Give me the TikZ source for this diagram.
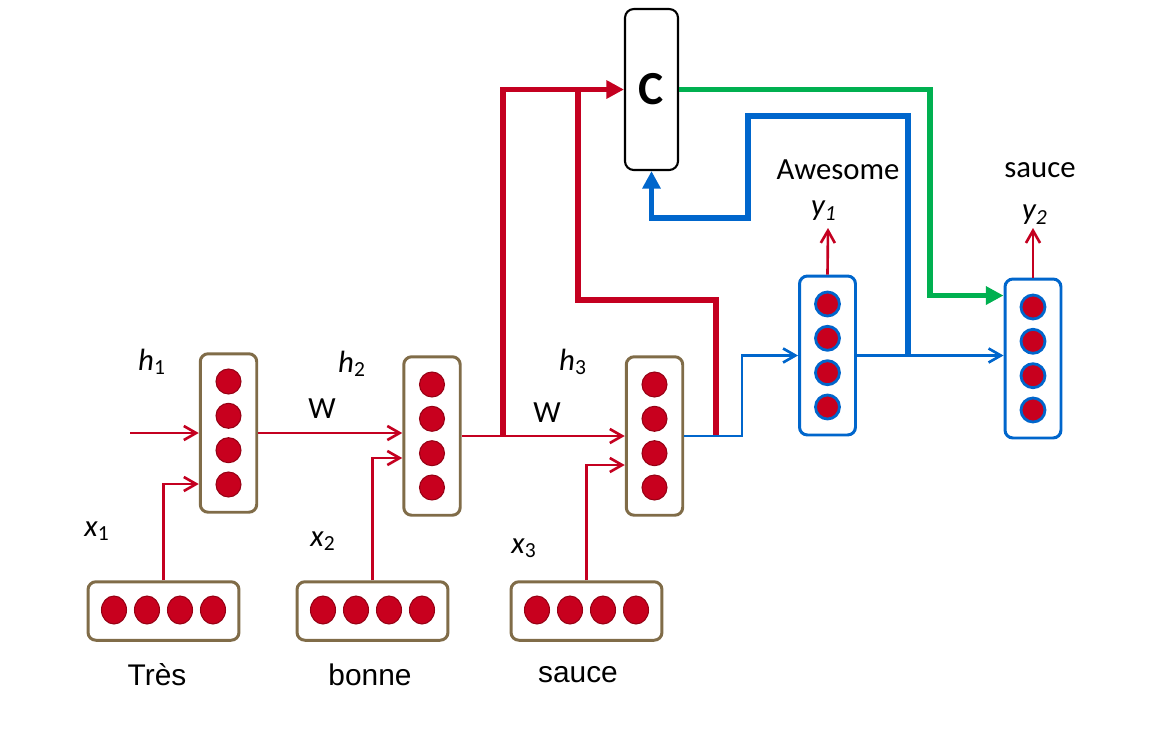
\documentclass[tikz,border=0pt]{standalone}
\usepackage{fontspec}
\setmainfont{Liberation Sans}
\newfontfamily\calib{Carlito}
\usetikzlibrary{arrows.meta,calc,shapes.geometric}

\definecolor{encred}{RGB}{196,0,32}
\definecolor{dotred}{RGB}{200,0,30}
\definecolor{dotedge}{RGB}{150,0,20}
\definecolor{tan}{RGB}{128,108,72}
\definecolor{decblue}{RGB}{0,102,204}
\definecolor{ctxgreen}{RGB}{0,176,80}

\begin{document}
\begin{tikzpicture}[x=0.02cm,y=-0.02cm,
  encbox/.style={draw=tan,line width=1.7pt,rounded corners=4.5pt,fill=white,
    minimum width=1.13cm,minimum height=3.17cm,inner sep=0pt},
  inbox/.style={draw=tan,line width=1.7pt,rounded corners=4.5pt,fill=white,
    minimum width=3.02cm,minimum height=1.17cm,inner sep=0pt},
  decbox/.style={draw=decblue,line width=1.7pt,rounded corners=4.5pt,fill=white,
    minimum width=1.12cm,minimum height=3.18cm,inner sep=0pt},
  ctxbox/.style={draw=black,line width=1.2pt,rounded corners=5pt,fill=white,
    minimum width=1.06cm,minimum height=3.22cm,inner sep=0pt},
  dot/.style={circle,fill=dotred,draw=dotedge,line width=0.6pt,
    minimum size=0.5cm,inner sep=0pt},
  hdot/.style={ellipse,fill=dotred,draw=dotedge,line width=0.6pt,
    minimum width=0.5cm,minimum height=0.56cm,inner sep=0pt},
  bdot/.style={circle,fill=dotred,draw=decblue,line width=1.6pt,
    minimum size=0.48cm,inner sep=0pt},
  redthin/.style={draw=encred,line width=1.5pt,
    -{Straight Barb[length=7pt,width=8pt]}},
  redline/.style={draw=encred,line width=1.5pt},
  bluethin/.style={draw=decblue,line width=1.5pt,
    -{Straight Barb[length=7pt,width=8pt]}},
  redthick/.style={draw=encred,line width=3pt},
  bluethick/.style={draw=decblue,line width=3pt},
  greenthick/.style={draw=ctxgreen,line width=3pt},
  fat/.style={-{Triangle[length=10pt,width=10pt]}},
  word/.style={font=\fontsize{17}{20}\selectfont,inner sep=0pt},
  cword/.style={font=\calib\fontsize{17.5}{20}\selectfont,inner sep=0pt},
  sym/.style={font=\calib\itshape\fontsize{17.5}{20}\selectfont,inner sep=0pt}
]
\useasboundingbox (0,0) rectangle (1150,728);

% ---- context vector ----
\node[ctxbox] (c) at (651.5,89.5) {\calib\bfseries\fontsize{27}{30}\selectfont C};

% ---- encoder hidden states ----
\node[encbox] (hA) at (228.5,433) {};
\node[encbox] (hB) at (432,436) {};
\node[encbox] (hC) at (654.5,436) {};
\foreach \b in {hA,hB,hC}
  \foreach \d [count=\i] in {-51.5,-17.2,17.2,51.5}
    \node[dot] (\b-\i) at ($(\b)+(0,\d)$) {};

% ---- input embeddings ----
\node[inbox] (xA) at (163.5,611) {};
\node[inbox] (xB) at (372.5,611) {};
\node[inbox] (xC) at (586.5,611) {};
\foreach \b in {xA,xB,xC}
  \foreach \d [count=\i] in {-49.5,-16.5,16.5,49.5}
    \node[hdot] (\b-\i) at ($(\b)+(\d,-1)$) {};

% ---- decoder states ----
\node[decbox] (dA) at (827.5,355.5) {};
\node[decbox] (dB) at (1033,358.5) {};
\foreach \b in {dA,dB}
  \foreach \d [count=\i] in {-51.5,-17.2,17.2,51.5}
    \node[bdot] (\b-\i) at ($(\b)+(0,\d)$) {};

% ---- labels ----
\node[sym] (lh1) at (152,362) {h\textsubscript{\upshape 1}};
\node[sym] (lh2) at (352,364) {h\textsubscript{\upshape 2}};
\node[sym] (lh3) at (573,362) {h\textsubscript{\upshape 3}};
\node[sym] (lx1) at (97,531) {x\textsubscript{\upshape 1}};
\node[sym] (lx2) at (323,541) {x\textsubscript{\upshape 2}};
\node[sym] (lx3) at (524,548) {x\textsubscript{\upshape 3}};
\node[cword] (lw1) at (322,409) {W};
\node[cword] (lw2) at (547,413) {W};
\node[word] (wa) at (157,675) {Très};
\node[word] (wb) at (370,675) {bonne};
\node[word] (wc) at (578,675) {sauce};
\node[cword] (oa) at (838,170) {Awesome};
\node[cword] (ob) at (1040,170) {sauce};
\node[sym] (ly1) at (824,211) {y\textsubscript{1}};
\node[sym] (ly2) at (1035,215) {y\textsubscript{2}};

% ---- junction points ----
\coordinate (h0) at (130,433);
\coordinate (j1) at (503,436);
\coordinate (j2) at (578,89.5);
\coordinate (j3) at (716,436);
\coordinate (j4) at (908,355.5);
\coordinate (t1) at (828,228);
\coordinate (t2) at (1033,228);

% ---- thick feeds into and out of C ----
\draw[redthick,fat] (j1) |- (c.west);
\draw[redthick] (j2) -- (578,300) -| (j3);
\draw[bluethick,fat] (j4) -- (908,116) -- (748,116) -- (748,218) -| (c.south);
\draw[greenthick,fat] (c.east) -- (930,89.5) |- ($(dB.north west)+(0,18)$);

% ---- encoder recurrence ----
\draw[redthin] (h0) -- (hA.west);
\draw[redthin] (hA.east) -- (hA.east -| hB.west);
\draw[redthin] (hB.east) -- (hB.east -| hC.west);
\draw[redthin] (xA.north) |- ($(hA.west)+(0,51)$);
\draw[redthin] (xB.north) |- ($(hB.west)+(0,22)$);
\draw[redthin] (xC.north) |- ($(hC.west)+(0,29)$);

% ---- decoder recurrence ----
\draw[bluethin] (hC.east) -- (742,436) |- (dA.west);
\draw[bluethin] (dA.east) -- (dA.east -| dB.west);
\draw[redthin] (dA.north) -- (t1);
\draw[redthin] (dB.north) -- (t2);
\end{tikzpicture}
\end{document}
